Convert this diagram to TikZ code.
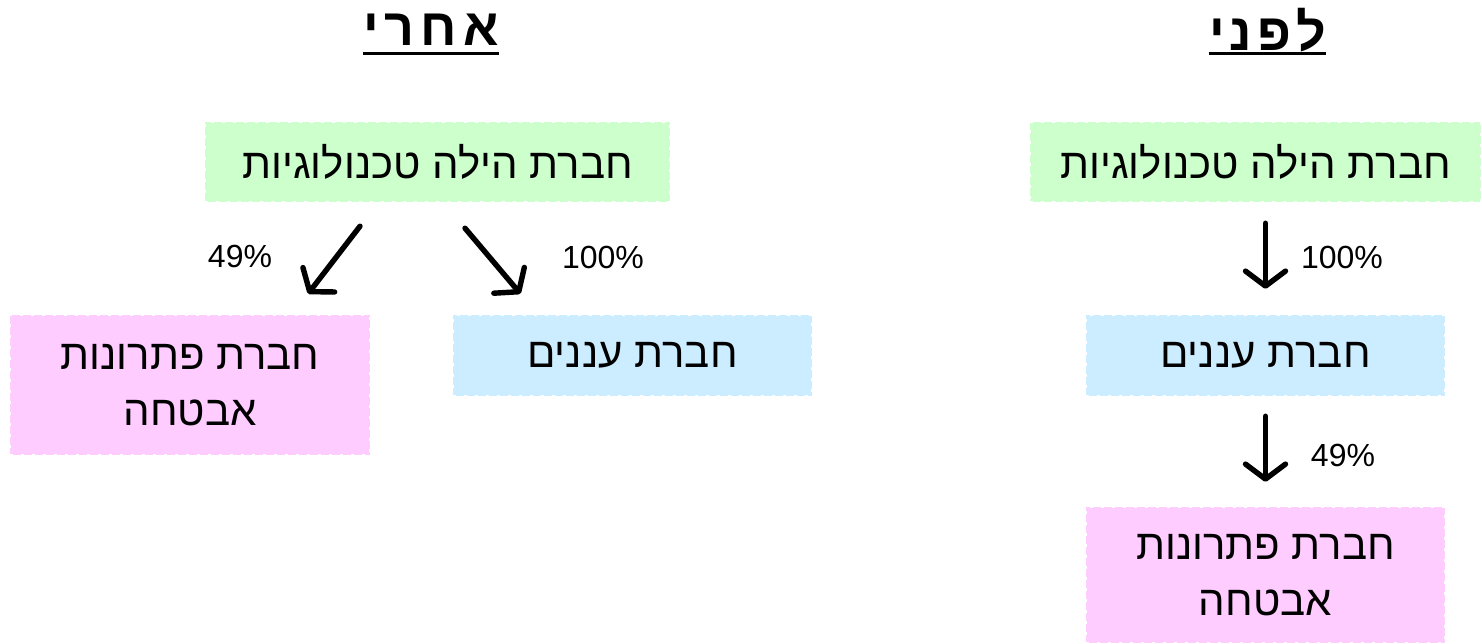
\documentclass[tikz,border=0pt]{standalone}
\usepackage{fontspec}
\setmainfont{Liberation Sans}
\newfontfamily\hebfont[Script=Hebrew]{Liberation Sans}
\usetikzlibrary{arrows.meta}
\TeXXeTstate=1
\definecolor{boxGreen}{RGB}{204,255,204}
\definecolor{boxBlue}{RGB}{204,236,255}
\definecolor{boxPink}{RGB}{255,204,255}

\begin{document}
\begin{tikzpicture}[x=0.5pt,y=-0.5pt]
\tikzstyle{every node}=[font=\hebfont\fontsize{21}{28}\selectfont, text=black]
\tikzstyle{box}=[draw=white, dash pattern=on 1.5pt off 4pt, line width=1.2pt, align=center, inner sep=0pt]
\tikzstyle{title}=[font=\hebfont\bfseries\fontsize{26}{30}\selectfont, inner sep=0pt, minimum height=23pt]
\tikzstyle{pct}=[font=\hebfont\fontsize{16}{19}\selectfont]
\tikzstyle{arr}=[-{Straight Barb[length=7.5pt,width=20pt,round]}, line width=2.7pt, line cap=round]
\tikzstyle{uline}=[line width=1.5pt]

  \useasboundingbox (0,0) rectangle (1482,643);

  % before
  \node[title, minimum width=57.5pt] (tBefore) at (1267.5,30) {\beginR ל\hspace{2.5pt}פ\hspace{2.5pt}נ\hspace{2.5pt}י\endR};
  \draw[uline] (tBefore.south west) -- (tBefore.south east);

  \node[box, fill=boxGreen, minimum width=225.5pt, minimum height=40pt] (hilaR) at (1255.5,162) {\beginR חברת הילה טכנולוגיות\endR};
  \node[box, fill=boxBlue, minimum width=179.5pt, minimum height=40.5pt] (ananimR) at (1265.5,355.5) {\beginR חברת עננים\endR};
  \node[box, fill=boxPink, minimum width=179.5pt, minimum height=68pt] (avtachaR) at (1265.5,575) {\beginR חברת פתרונות\endR\\\beginR אבטחה\endR};

  \draw[arr, shorten <=10pt, shorten >=12.5pt] (hilaR.south -| ananimR.north) -- (ananimR.north);
  \draw[arr, shorten <=9.5pt, shorten >=12pt] (ananimR.south) -- (avtachaR.north);
  \node[pct] (pR1) at (1342,257) {100\%};
  \node[pct] (pR2) at (1343,455) {49\%};

  % after
  \node[title, minimum width=66pt] (tAfter) at (431,30) {\beginR א\hspace{3pt}ח\hspace{3pt}ר\hspace{3pt}י\endR};
  \draw[uline] (tAfter.south west) -- (tAfter.south east);

  \node[box, fill=boxGreen, minimum width=232.5pt, minimum height=40pt] (hilaL) at (437.5,162) {\beginR חברת הילה טכנולוגיות\endR};
  \node[box, fill=boxBlue, minimum width=179.5pt, minimum height=40.5pt] (ananimL) at (632.5,355.5) {\beginR חברת עננים\endR};
  \node[box, fill=boxPink, minimum width=180pt, minimum height=70pt] (avtachaL) at (190,385) {\beginR חברת פתרונות\endR\\\beginR אבטחה\endR};

  \coordinate (fromL) at ([xshift=-38.75pt,yshift=-11.5pt]hilaL.south);
  \coordinate (toL) at ([xshift=59pt,yshift=10pt]avtachaL.north);
  \coordinate (fromR) at ([xshift=13.75pt,yshift=-12.5pt]hilaL.south);
  \coordinate (toR) at ([xshift=-56pt,yshift=10pt]ananimL.north);
  \draw[arr] (fromL) -- (toL);
  \draw[arr] (fromR) -- (toR);
  \node[pct] (pL1) at (240,256) {49\%};
  \node[pct] (pL2) at (603,257) {100\%};

\end{tikzpicture}
\end{document}
